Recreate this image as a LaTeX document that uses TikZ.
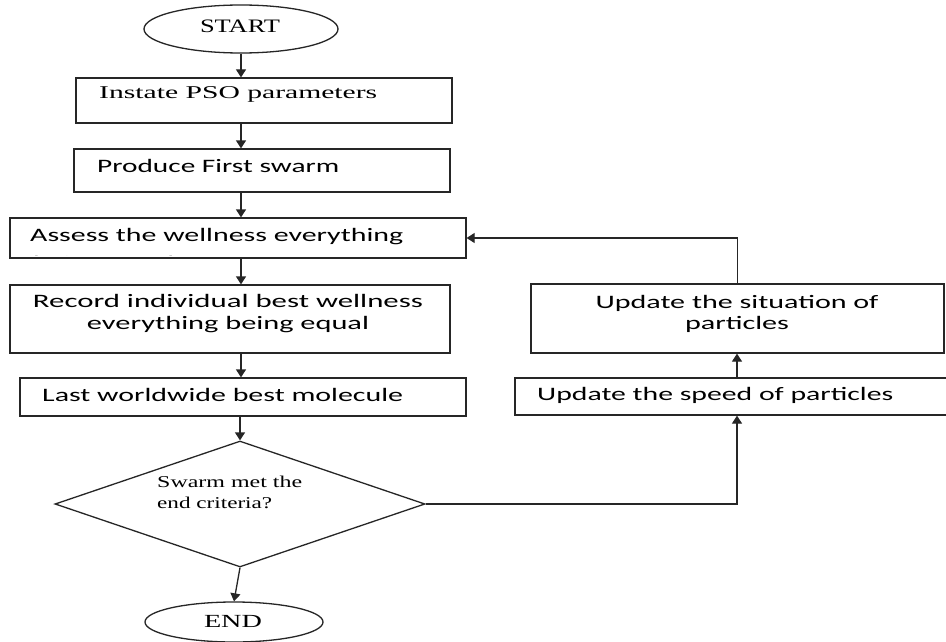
\documentclass[tikz,border=0pt]{standalone}
\usepackage{graphicx}
\usepackage{fontspec}
\setmainfont{Liberation Serif}
\newfontfamily\calfont{Carlito}
\usetikzlibrary{shapes.geometric,arrows.meta}
\newcommand{\fitw}[2]{\resizebox{#1pt}{\height}{#2}}
\tikzset{
  shapeline/.style={draw=black!85, line width=1.3pt},
  boxnode/.style={shapeline, rectangle, inner sep=0pt},
  termnode/.style={shapeline, ellipse, inner sep=0pt},
  decnode/.style={shapeline, diamond, inner sep=0pt},
  txt/.style={inner sep=0pt, anchor=base west},
  ctxt/.style={inner sep=0pt, anchor=base},
  serifA/.style={font=\fontsize{18}{20}\selectfont},
  serifB/.style={font=\fontsize{16.5}{19}\selectfont},
  sansA/.style={font=\calfont\fontsize{19}{22}\selectfont},
  arr/.style={draw=black!85, line width=1.3pt, -{Triangle[width=10pt,length=8pt]}}
}
\begin{document}
\begin{tikzpicture}[x=1pt,y=-1pt]
\useasboundingbox (0,0) rectangle (946,642);
\clip (0,0) rectangle (946,642);
\fill[white] (0,0) rectangle (946,642);

% shapes
\node[termnode, minimum width=194pt, minimum height=48pt] (start) at (241,29) {};
\node[boxnode, minimum width=376pt, minimum height=45pt] (b1) at (264,100.5) {};
\node[boxnode, minimum width=376pt, minimum height=43pt] (b2) at (262,170.5) {};
\node[boxnode, minimum width=456pt, minimum height=40pt] (b3) at (238,238) {};
\node[boxnode, minimum width=440pt, minimum height=68pt] (b4) at (230,319) {};
\node[boxnode, minimum width=446pt, minimum height=38pt] (b5) at (243,397) {};
\node[decnode, minimum width=370pt, minimum height=126pt] (dia) at (240,504) {};
\node[termnode, minimum width=178pt, minimum height=40pt] (end) at (234,622) {};
\node[boxnode, minimum width=413pt, minimum height=69pt] (u1) at (737.5,318.5) {};
\node[boxnode, minimum width=444pt, minimum height=37pt] (u2) at (737,396.5) {};

% texts
\node[ctxt, font=\fontsize{19}{21}\selectfont] (tstart) at (240,33) {\fitw{80}{START}};
\node[txt, serifA] (t1) at (99,99) {\fitw{278}{Instate PSO parameters}};
\node[txt, sansA] (t2) at (97,172) {\fitw{242}{Produce First swarm}};
\node[txt, sansA] (t3) at (30,241) {\fitw{373}{Assess the wellness everything}};
\begin{scope}
  \clip (b3.north west) rectangle ([yshift=3pt]b3.south east);
  \node[txt, sansA] (t3b) at (33,269) {\scalebox{1.57}[1]{being equal}};
\end{scope}
\node[ctxt, sansA] (t4a) at (228,307) {\fitw{390}{Record individual best wellness}};
\node[ctxt, sansA] (t4b) at (228,329) {\fitw{282}{everything being equal}};
\node[txt, sansA] (t5) at (42,401) {\fitw{361}{Last worldwide best molecule}};
\node[txt, serifB] (t6a) at (157,487) {\fitw{145}{Swarm met the}};
\node[txt, serifB] (t6b) at (157,508) {\fitw{115}{end criteria?}};
\node[ctxt, font=\fontsize{18.5}{21}\selectfont] (tend) at (233,627) {\fitw{58}{END}};
\node[ctxt, sansA] (tu1a) at (737,308) {\fitw{283}{Update the situation of}};
\node[ctxt, sansA] (tu1b) at (737,329) {\fitw{104}{particles}};
\node[txt, sansA] (tu2) at (537,400) {\fitw{356}{Update the speed of particles}};

% connectors
\draw[arr] (start) -- (start |- b1.north);
\draw[arr] (b1.south -| start) -- (b2.north -| start);
\draw[arr] (b2.south -| start) -- (b3.north -| start);
\draw[arr] (b3.south -| start) -- (b4.north -| start);
\draw[arr] (b4.south -| start) -- (b5.north -| start);
\draw[arr] (b5.south -| dia) -- (dia.north);
\draw[arr] (dia.south) -- (end.north);
\draw[arr] (dia.east) -| (u2.south);
\draw[arr] (u2.north) -- (u2.north |- u1.south);
\draw[arr] (u1.north) |- (b3.east);
\end{tikzpicture}
\end{document}
